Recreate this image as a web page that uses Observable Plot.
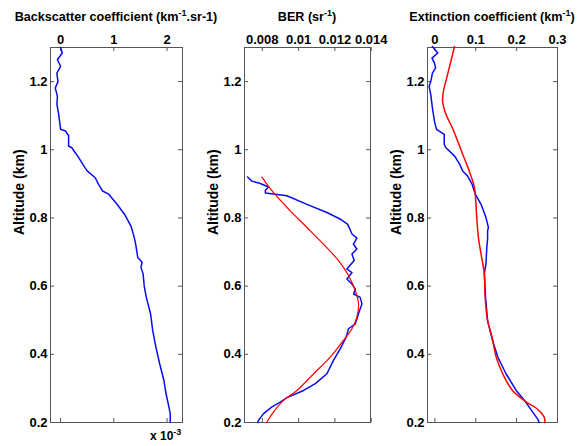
<!DOCTYPE html>
<html><head><meta charset="utf-8">
<script src="https://cdn.jsdelivr.net/npm/d3@7"></script>
<script src="https://cdn.jsdelivr.net/npm/@observablehq/plot@0.6"></script>
<style>
body{margin:0;background:#fff;}
#wrap{position:relative;width:579px;height:446px;font-family:"Liberation Sans",Arial,sans-serif;font-weight:bold;color:#000;background:#fff;overflow:hidden;}
.title{position:absolute;font-size:12.6px;line-height:15px;text-align:center;white-space:nowrap;}
.title sup{font-size:9px;line-height:0;vertical-align:5px;}
.panel{position:absolute;top:0;}
</style></head><body><div id="wrap"></div>
<script>
// ---- shared axis data ----
const altTicks = [0.2, 0.4, 0.6, 0.8, 1, 1.2];
const altDomain = [0.2, 1.3];

// ---- Panel 1: Backscatter coefficient (x 10^-3 km^-1 sr^-1) ----
const bsTicks = [0, 1, 2];
const bsAlt = [1.30,1.284,1.264,1.245,1.225,1.20,1.181,1.157,1.133,1.108,1.084,1.06,1.055,1.042,1.011,1.006,0.977,0.947,0.938,0.918,0.899,0.879,0.870,0.840,0.811,0.777,0.762,0.738,0.723,0.684,0.67,0.655,0.636,0.601,0.567,0.519,0.47,0.421,0.373,0.324,0.285,0.256,0.226,0.202];
const bsVal = [0.0,0.03,-0.06,0.0,-0.07,-0.05,-0.1,-0.06,-0.07,-0.04,-0.02,0.0,0.09,0.15,0.15,0.21,0.34,0.46,0.50,0.65,0.71,0.79,0.90,1.06,1.20,1.32,1.35,1.39,1.41,1.45,1.53,1.51,1.55,1.57,1.61,1.69,1.73,1.79,1.86,1.94,1.98,2.02,2.06,2.06];

// ---- Panel 2: BER (sr^-1) ----
const berTicks = [0.008, 0.01, 0.012, 0.014];
const berBlueAlt = [0.920,0.908,0.901,0.891,0.881,0.873,0.870,0.865,0.840,0.816,0.797,0.782,0.767,0.753,0.741,0.723,0.709,0.694,0.675,0.650,0.640,0.621,0.606,0.592,0.577,0.567,0.548,0.519,0.489,0.475,0.450,0.416,0.382,0.343,0.314,0.294,0.273,0.260,0.246,0.226,0.207,0.200];
const berBlueVal = [0.00719,0.00743,0.00789,0.00835,0.00817,0.00817,0.00862,0.00936,0.01046,0.01156,0.01228,0.01269,0.01283,0.01294,0.01321,0.01302,0.01321,0.01294,0.01306,0.01266,0.01294,0.01266,0.01294,0.01312,0.01303,0.01339,0.01349,0.01330,0.01312,0.01275,0.01262,0.01229,0.01192,0.01156,0.01092,0.01027,0.00936,0.00899,0.00853,0.00807,0.00780,0.00775];
const berRedAlt = [0.920,0.874,0.821,0.772,0.723,0.675,0.631,0.587,0.548,0.509,0.475,0.441,0.392,0.343,0.294,0.265,0.231,0.200];
const berRedVal = [0.00798,0.00862,0.00954,0.01046,0.01137,0.01220,0.01275,0.01312,0.01330,0.01321,0.01294,0.01247,0.01174,0.01083,0.00991,0.00917,0.00862,0.00824];

// ---- Panel 3: Extinction coefficient (km^-1) ----
const extTicks = [0, 0.1, 0.2, 0.3];
const extBlueAlt = [1.303,1.284,1.269,1.254,1.240,1.225,1.200,1.186,1.162,1.123,1.084,1.06,1.045,1.016,1.006,0.982,0.957,0.938,0.923,0.899,0.884,0.870,0.840,0.801,0.772,0.762,0.738,0.713,0.665,0.636,0.567,0.499,0.441,0.392,0.343,0.294,0.265,0.231,0.209,0.200];
const extBlueVal = [-0.006,0.007,-0.007,-0.001,0.002,-0.006,-0.01,-0.014,-0.01,-0.006,-0.001,0.004,0.023,0.023,0.027,0.048,0.061,0.068,0.080,0.091,0.095,0.099,0.113,0.125,0.131,0.129,0.129,0.127,0.125,0.121,0.124,0.129,0.141,0.154,0.174,0.199,0.219,0.239,0.252,0.255];
const extRedAlt = [1.303,1.259,1.211,1.172,1.142,1.104,1.064,1.025,0.987,0.938,0.889,0.850,0.792,0.738,0.694,0.636,0.567,0.499,0.450,0.392,0.343,0.294,0.260,0.241,0.221,0.209,0.200];
const extRedVal = [0.048,0.039,0.029,0.021,0.019,0.027,0.043,0.056,0.068,0.084,0.097,0.100,0.103,0.107,0.113,0.121,0.123,0.129,0.140,0.150,0.166,0.190,0.224,0.249,0.265,0.269,0.269];

const zip = (alt, val) => alt.map((a, i) => ({alt: a, v: val[i]}));
const fmt = d => String(d);
const H = 446, MT = 47, MB = 24;
const FRAME = "#555";
const FONT = "Liberation Sans, Arial, sans-serif";

function panel({left, width, mL, mR, xDomain, xTicks, series}) {
  const innerW = width - mL - mR, innerH = H - MT - MB;
  const marks = [
    Plot.frame({stroke: FRAME, strokeWidth: 1}),
    Plot.tickX(xTicks, {x: d => d, insetTop: innerH - 4, stroke: FRAME}),
    Plot.tickX(xTicks, {x: d => d, insetBottom: innerH - 4, stroke: FRAME}),
    Plot.tickY(altTicks, {y: d => d, insetRight: innerW - 4, stroke: FRAME}),
    Plot.tickY(altTicks, {y: d => d, insetLeft: innerW - 4, stroke: FRAME}),
    Plot.text(xTicks, {x: d => d, text: fmt, frameAnchor: "top", lineAnchor: "bottom", dy: -4, fontSize: 13, fontWeight: "bold", fill: "#000"}),
    Plot.text(altTicks, {y: d => d, text: fmt, frameAnchor: "left", textAnchor: "end", dx: -3, fontSize: 13, fontWeight: "bold", fill: "#000"}),
    Plot.text(["Altitude (km)"], {frameAnchor: "left", rotate: -90, dx: -31, fontSize: 14, fontWeight: "bold", fill: "#000"}),
    ...series.map(s => Plot.line(s.data, {x: "v", y: "alt", stroke: s.color, strokeWidth: s.w, curve: s.curve || "linear"}))
  ];
  const svg = Plot.plot({
    width, height: H,
    marginLeft: mL, marginRight: mR, marginTop: MT, marginBottom: MB,
    x: {domain: xDomain, axis: null},
    y: {domain: altDomain, axis: null},
    style: {fontFamily: FONT, fontWeight: "bold", background: "transparent", overflow: "visible"},
    marks
  });
  svg.classList.add("panel");
  svg.style.left = left + "px";
  return svg;
}

const wrap = document.getElementById("wrap");
wrap.appendChild(panel({left: 0, width: 190, mL: 50, mR: 8, xDomain: [-0.19, 2.29], xTicks: bsTicks,
  series: [{data: zip(bsAlt, bsVal), color: "#0a0af0", w: 1.5}]}));
wrap.appendChild(panel({left: 190, width: 190, mL: 54, mR: 10, xDomain: [0.00702, 0.01396], xTicks: berTicks,
  series: [{data: zip(berBlueAlt, berBlueVal), color: "#0a0af0", w: 1.5},
           {data: zip(berRedAlt, berRedVal), color: "#f00", w: 1.2, curve: "catmull-rom"}]}));
wrap.appendChild(panel({left: 380, width: 199, mL: 47, mR: 22, xDomain: [-0.018, 0.3], xTicks: extTicks,
  series: [{data: zip(extBlueAlt, extBlueVal), color: "#0a0af0", w: 1.5},
           {data: zip(extRedAlt, extRedVal), color: "#f00", w: 1.5, curve: "catmull-rom"}]}));

function title(html, cx, top) {
  const d = document.createElement("div");
  d.className = "title";
  d.innerHTML = html;
  d.style.top = top + "px";
  d.style.left = (cx - 150) + "px";
  d.style.width = "300px";
  wrap.appendChild(d);
}
title("Backscatter coefficient (km<sup>-1</sup>.sr-1)", 116, 10);
title("BER (sr<sup>-1</sup>)", 307, 10);
title("Extinction coefficient (km<sup>-1</sup>)", 492, 10);

const sc = document.createElement("div");
sc.className = "title";
sc.style.left = "150px"; sc.style.top = "429px"; sc.style.fontSize = "12px"; sc.style.textAlign = "left";
sc.innerHTML = "x 10<sup>-3</sup>";
wrap.appendChild(sc);
</script></body></html>
